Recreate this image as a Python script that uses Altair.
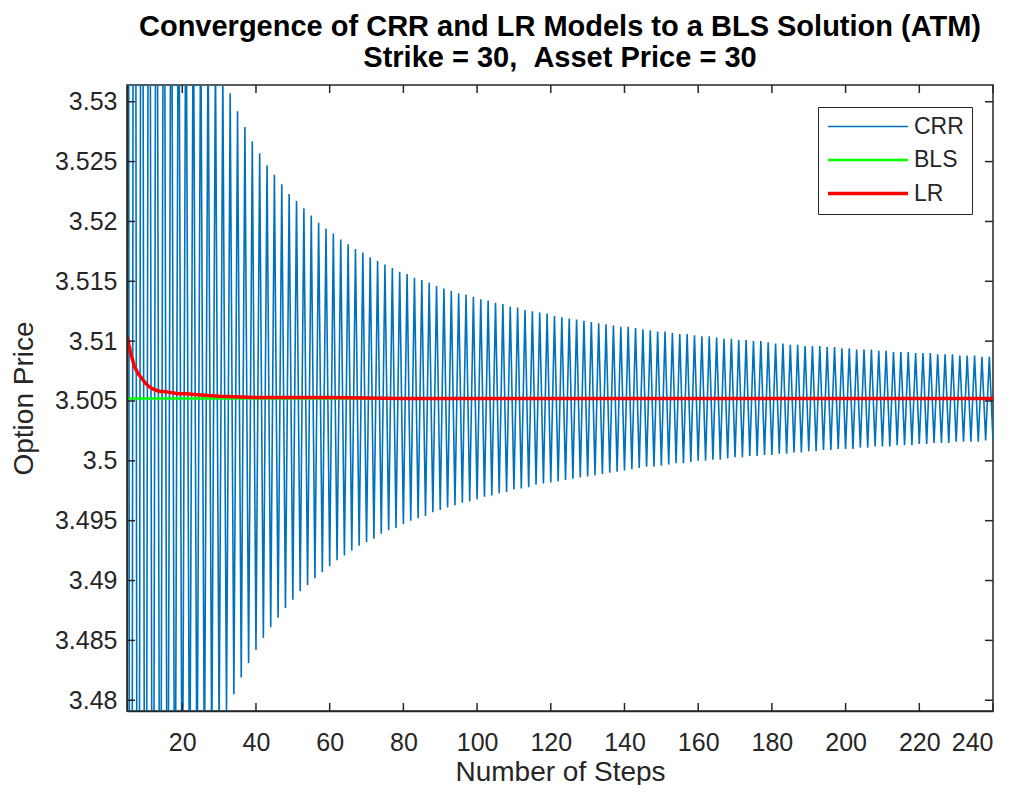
import altair as alt
import pandas as pd

# ---------------- data ----------------
steps = list(range(5, 241))
crr_price = [
    3.6732, 3.3652, 3.6252, 3.4002, 3.5985, 3.4212, 3.5816, 3.4352, 3.5698, 3.4452,
    3.5612, 3.4527, 3.5546, 3.4585, 3.5494, 3.4632, 3.5452, 3.4670, 3.5417, 3.4702,
    3.5388, 3.4729, 3.5363, 3.4752, 3.5342, 3.4772, 3.5323, 3.4790, 3.5307, 3.4805,
    3.5292, 3.4819, 3.5279, 3.4831, 3.5267, 3.4842, 3.5257, 3.4852, 3.5247, 3.4861,
    3.5239, 3.4869, 3.5231, 3.4877, 3.5223, 3.4884, 3.5217, 3.4891, 3.5211, 3.4896,
    3.5205, 3.4902, 3.5199, 3.4907, 3.5194, 3.4912, 3.5190, 3.4917, 3.5185, 3.4921,
    3.5181, 3.4925, 3.5177, 3.4929, 3.5174, 3.4932, 3.5170, 3.4935, 3.5167, 3.4939,
    3.5164, 3.4942, 3.5161, 3.4944, 3.5158, 3.4947, 3.5156, 3.4950, 3.5153, 3.4952,
    3.5151, 3.4954, 3.5149, 3.4957, 3.5146, 3.4959, 3.5144, 3.4961, 3.5142, 3.4963,
    3.5140, 3.4965, 3.5139, 3.4966, 3.5137, 3.4968, 3.5135, 3.4970, 3.5134, 3.4971,
    3.5132, 3.4973, 3.5131, 3.4974, 3.5129, 3.4976, 3.5128, 3.4977, 3.5126, 3.4978,
    3.5125, 3.4980, 3.5124, 3.4981, 3.5123, 3.4982, 3.5121, 3.4983, 3.5120, 3.4984,
    3.5119, 3.4985, 3.5118, 3.4986, 3.5117, 3.4987, 3.5116, 3.4988, 3.5115, 3.4989,
    3.5114, 3.4990, 3.5113, 3.4991, 3.5112, 3.4992, 3.5112, 3.4993, 3.5111, 3.4994,
    3.5110, 3.4995, 3.5109, 3.4995, 3.5108, 3.4996, 3.5108, 3.4997, 3.5107, 3.4998,
    3.5106, 3.4998, 3.5106, 3.4999, 3.5105, 3.5000, 3.5104, 3.5000, 3.5104, 3.5001,
    3.5103, 3.5001, 3.5102, 3.5002, 3.5102, 3.5003, 3.5101, 3.5003, 3.5101, 3.5004,
    3.5100, 3.5004, 3.5100, 3.5005, 3.5099, 3.5005, 3.5098, 3.5006, 3.5098, 3.5006,
    3.5097, 3.5007, 3.5097, 3.5007, 3.5096, 3.5008, 3.5096, 3.5008, 3.5096, 3.5009,
    3.5095, 3.5009, 3.5095, 3.5010, 3.5094, 3.5010, 3.5094, 3.5010, 3.5093, 3.5011,
    3.5093, 3.5011, 3.5093, 3.5012, 3.5092, 3.5012, 3.5092, 3.5012, 3.5091, 3.5013,
    3.5091, 3.5013, 3.5091, 3.5013, 3.5090, 3.5014, 3.5090, 3.5014, 3.5090, 3.5015,
    3.5089, 3.5015, 3.5089, 3.5015, 3.5089, 3.5016, 3.5088, 3.5016, 3.5088, 3.5016,
    3.5088, 3.5016, 3.5087, 3.5017, 3.5087, 3.5017,
]
bls_steps = [5, 240]
bls_price = [3.5052, 3.5052]
lr_steps = [5, 6, 7, 8, 9, 10, 11, 12, 13, 14, 15, 17, 19, 21, 25, 30, 40, 60,
            80, 100, 120, 140, 160, 180, 200, 220, 240]
lr_price = [3.5104, 3.5090, 3.5079, 3.5073, 3.5069, 3.5065, 3.5062, 3.5060,
            3.5059, 3.5058, 3.5058, 3.5057, 3.5056, 3.5056, 3.5055, 3.5054,
            3.5053, 3.5053, 3.5052, 3.5052, 3.5052, 3.5052, 3.5052, 3.5052,
            3.5052, 3.5052, 3.5052]

series_names = ["CRR", "BLS", "LR"]
series_colors = ["#0072BD", "#00FF00", "#FF0000"]
series_widths = [1.6, 3.5, 3.5]

x_ticks = [20, 40, 60, 80, 100, 120, 140, 160, 180, 200, 220, 240]
y_ticks = [3.48, 3.485, 3.49, 3.495, 3.5, 3.505, 3.51, 3.515, 3.52, 3.525, 3.53]
x_domain = [5, 240]
y_domain = [3.4791, 3.5314]

title_lines = ["Convergence of CRR and LR Models to a BLS Solution (ATM)",
               "Strike = 30, \u00a0Asset Price = 30"]

# ---------------- build chart ----------------
W, H = 866, 626
FONT = "Liberation Sans"
AX = "#262626"

crr_df = pd.DataFrame({"step": steps, "price": crr_price, "series": "CRR"})
bls_df = pd.DataFrame({"step": bls_steps, "price": bls_price, "series": "BLS"})
lr_df = pd.DataFrame({"step": lr_steps, "price": lr_price, "series": "LR"})
xt_df = pd.DataFrame({"step": x_ticks})
yt_df = pd.DataFrame({"price": y_ticks})

xscale = alt.Scale(domain=x_domain, nice=False, zero=False)
yscale = alt.Scale(domain=y_domain, nice=False, zero=False)

leg = alt.Legend(
    title=None, orient="none", legendX=691, legendY=22,
    symbolType="stroke", symbolSize=6400, clipHeight=23,
    labelFontSize=23, labelFont=FONT, labelColor=AX, labelOffset=4,
    rowPadding=9.5, padding=8, strokeColor=AX, fillColor="white",
)

color = alt.Color("series:N", scale=alt.Scale(domain=series_names, range=series_colors), legend=leg)
width = alt.StrokeWidth("series:N", scale=alt.Scale(domain=series_names, range=series_widths), legend=leg)

xenc = alt.X("step:Q", scale=xscale, axis=alt.Axis(
    values=x_ticks, title="Number of Steps", ticks=False, grid=False,
    domain=True, domainColor=AX, domainWidth=1.5, labelPadding=19,
    labelFontSize=25, titleFontSize=28, titlePadding=3, zindex=1))
yenc = alt.Y("price:Q", scale=yscale, axis=alt.Axis(
    values=y_ticks, format=".4~f", title="Option Price", ticks=False, grid=False,
    domain=True, domainColor=AX, domainWidth=1.5, labelPadding=10,
    labelFontSize=25, titleFontSize=28, titlePadding=16, zindex=1))

def series_layer(df):
    return alt.Chart(df).mark_line(clip=True).encode(
        x=xenc, y=yenc, color=color, strokeWidth=width, order="step:Q")

crr = series_layer(crr_df)
bls = series_layer(bls_df)
lr = series_layer(lr_df)

tick_style = dict(color=AX, strokeWidth=1.5)
xt_bottom = alt.Chart(xt_df).mark_rule(**tick_style).encode(
    x=alt.X("step:Q", scale=xscale), y=alt.value(H), y2=alt.value(H - 8))
xt_top = alt.Chart(xt_df).mark_rule(**tick_style).encode(
    x=alt.X("step:Q", scale=xscale), y=alt.value(0), y2=alt.value(8))
yt_left = alt.Chart(yt_df).mark_rule(**tick_style).encode(
    y=alt.Y("price:Q", scale=yscale), x=alt.value(0), x2=alt.value(8))
yt_right = alt.Chart(yt_df).mark_rule(**tick_style).encode(
    y=alt.Y("price:Q", scale=yscale), x=alt.value(W), x2=alt.value(W - 8))

chart = alt.layer(crr, bls, lr, xt_bottom, xt_top, yt_left, yt_right).properties(
    width=W, height=H,
    title=alt.TitleParams(text=title_lines, font=FONT, fontSize=29, fontWeight="bold",
                          color="black", anchor="middle", offset=11, lineHeight=31),
    autosize=alt.AutoSizeParams(type="none"),
    padding={"left": 119, "top": 77, "right": 12, "bottom": 74},
    background="white",
).configure_view(stroke=AX, strokeWidth=1.5).configure_axis(
    labelFont=FONT, titleFont=FONT, labelColor=AX, titleColor=AX,
    titleFontWeight="normal")

chart.save("out.html", embed_options={"renderer": "svg", "actions": False})
